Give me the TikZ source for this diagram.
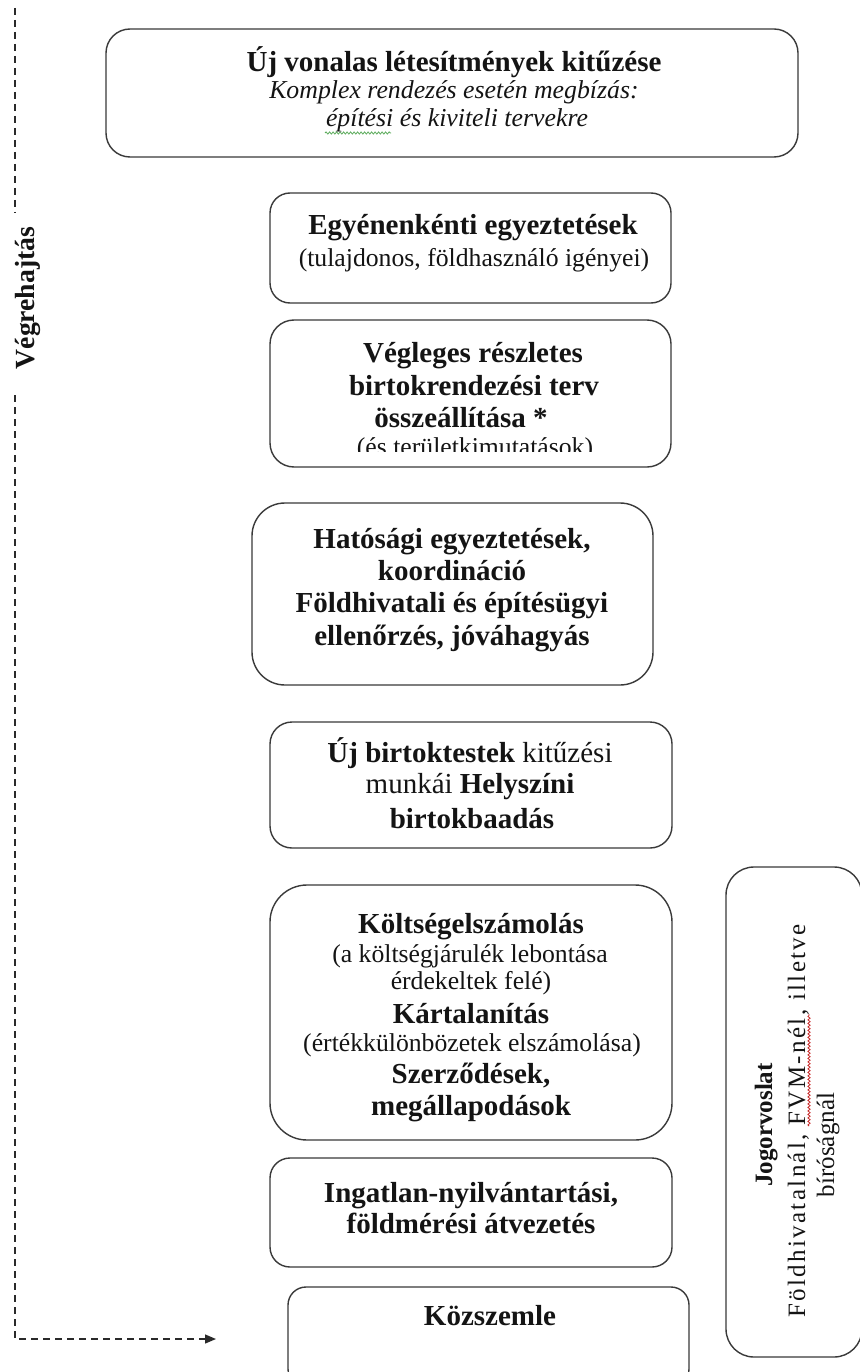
\documentclass[tikz,border=0pt]{standalone}
\usepackage{fontspec}
\setmainfont{Liberation Serif}
\usetikzlibrary{arrows.meta,decorations.pathmorphing}
\definecolor{boxcol}{HTML}{3A3A3A}
\definecolor{txtcol}{HTML}{141414}
\definecolor{dashcol}{HTML}{2A2A2A}
\begin{document}
\begin{tikzpicture}[x=1pt,y=-1pt,
  rbox/.style={draw=boxcol, line width=1.4pt, rounded corners=#1, inner sep=0pt, outer sep=0pt, anchor=north west, fill=white},
  tb/.style={font=\fontsize{29}{32}\selectfont\bfseries, text=txtcol, anchor=base, inner sep=0pt},
  tm/.style={font=\fontsize{29}{32}\selectfont, text=txtcol, anchor=base, inner sep=0pt},
  tr/.style={font=\fontsize{25.7}{28}\selectfont, text=txtcol, anchor=base, inner sep=0pt},
  ti/.style={font=\fontsize{25.8}{28}\selectfont\itshape, text=txtcol, anchor=base, inner sep=0pt},
  jb/.style={font=\fontsize{25}{28}\selectfont\bfseries, text=txtcol, anchor=base, inner sep=0pt, rotate=90},
  jr/.style={font=\fontsize{25}{28}\selectfont, text=txtcol, anchor=base, inner sep=0pt, rotate=90},
  dashline/.style={draw=dashcol, line width=1.3pt, dash pattern=on 7pt off 5pt},
  squig/.style={decorate, decoration={snake, amplitude=1.1pt, segment length=3.5pt}, line width=0.8pt}
]
\fill[white] (0,0) rectangle (859,1372);
\useasboundingbox (0,0) rectangle (859,1372);

% boxes
\node[rbox=24pt, minimum width=692pt, minimum height=128pt] (b1) at (106,29) {};
\node[rbox=20pt, minimum width=401pt, minimum height=110pt] (b2) at (270,193) {};
\node[rbox=24pt, minimum width=401pt, minimum height=147pt] (b3) at (270,320) {};
\node[rbox=33pt, minimum width=401pt, minimum height=182pt] (b4) at (252,503) {};
\node[rbox=22pt, minimum width=402pt, minimum height=126pt] (b5) at (270,722) {};
\node[rbox=37pt, minimum width=402pt, minimum height=255pt] (b6) at (270,885) {};
\node[rbox=20pt, minimum width=402pt, minimum height=109pt] (b7) at (270,1158) {};
\node[rbox=18pt, minimum width=401pt, minimum height=100pt] (b8) at (288,1287) {};
\node[rbox=28pt, minimum width=136pt, minimum height=490pt] (b9) at (726,867) {};

% box 1
\node[tb] (t1a) at (454,72) {Új vonalas létesítmények kitűzése};
\node[ti] (t1b) at (454,99) {Komplex rendezés esetén megbízás:};
\node[ti] (t1c) at (457,127) {építési és kiviteli tervekre};
\draw[squig, draw={rgb,255:red,90;green,170;blue,90}] (325,133) -- (391,133);

% box 2
\node[tb] (t2a) at (473,235) {Egyénenkénti egyeztetések};
\node[tr] (t2b) at (474,266) {(tulajdonos, földhasználó igényei)};

% box 3
\node[tb] (t3a) at (473,362) {Végleges részletes};
\node[tb] (t3b) at (474,395) {birtokrendezési terv};
\node[tb] (t3c) at (461,427) {összeállítása *};
\begin{scope}
\clip (270,320) rectangle (672,451);
\node[tr] (t3d) at (475,455) {(és területkimutatások)};
\end{scope}

% box 4
\node[tb] (t4a) at (452,548) {Hatósági egyeztetések,};
\node[tb] (t4b) at (452,580) {koordináció};
\node[tb] (t4c) at (452,612) {Földhivatali és építésügyi};
\node[tb] (t4d) at (452,645) {ellenőrzés, jóváhagyás};

% box 5
\node[tm] (t5a) at (470,762) {\textbf{Új birtoktestek} kitűzési};
\node[tm] (t5b) at (470,793) {munkái \textbf{Helyszíni}};
\node[tb] (t5c) at (472,828) {birtokbaadás};

% box 6
\node[tb] (t6a) at (471,933) {Költségelszámolás};
\node[tr] (t6b) at (470,962) {(a költségjárulék lebontása};
\node[tr] (t6c) at (471,989) {érdekeltek felé)};
\node[tb] (t6d) at (471,1023) {Kártalanítás};
\node[tr] (t6e) at (472,1051) {(értékkülönbözetek elszámolása)};
\node[tb] (t6f) at (471,1083) {Szerződések,};
\node[tb] (t6g) at (471,1115) {megállapodások};

% box 7
\node[tb] (t7a) at (471,1202) {Ingatlan-nyilvántartási,};
\node[tb] (t7b) at (471,1233) {földmérési átvezetés};

% box 8
\node[tb] (t8a) at (490,1325) {Közszemle};

% Jogorvoslat
\node[jb] (t9a) at (772,1125) {Jogorvoslat};
\node[jr] (t9b) at (805,1121) {\addfontfeature{LetterSpace=9.5}Földhivatalnál, FVM-nél, illetve};
\node[jr] (t9c) at (834,1145) {bíróságnál};
\draw[squig, draw={rgb,255:red,200;green,40;blue,40}] (809,1126) -- (809,1014);

% Végrehajtás
\node[font=\fontsize{27.7}{30}\selectfont\bfseries, text=txtcol, anchor=base, inner sep=0pt, rotate=90] (vh) at (34,298) {Végrehajtás};

\coordinate (dtop) at (15,8);
\coordinate (dgap1) at (15,213);
\coordinate (dgap2) at (15,395);
\coordinate (dcorner) at (15,1339);
\coordinate (dend) at (216,1339);
\draw[dashline] (dtop) -- (dgap1);
\draw[dashline, -{Triangle[length=11pt,width=9pt]}] (dgap2) -- (dcorner) -- (dend);
\end{tikzpicture}
\end{document}
